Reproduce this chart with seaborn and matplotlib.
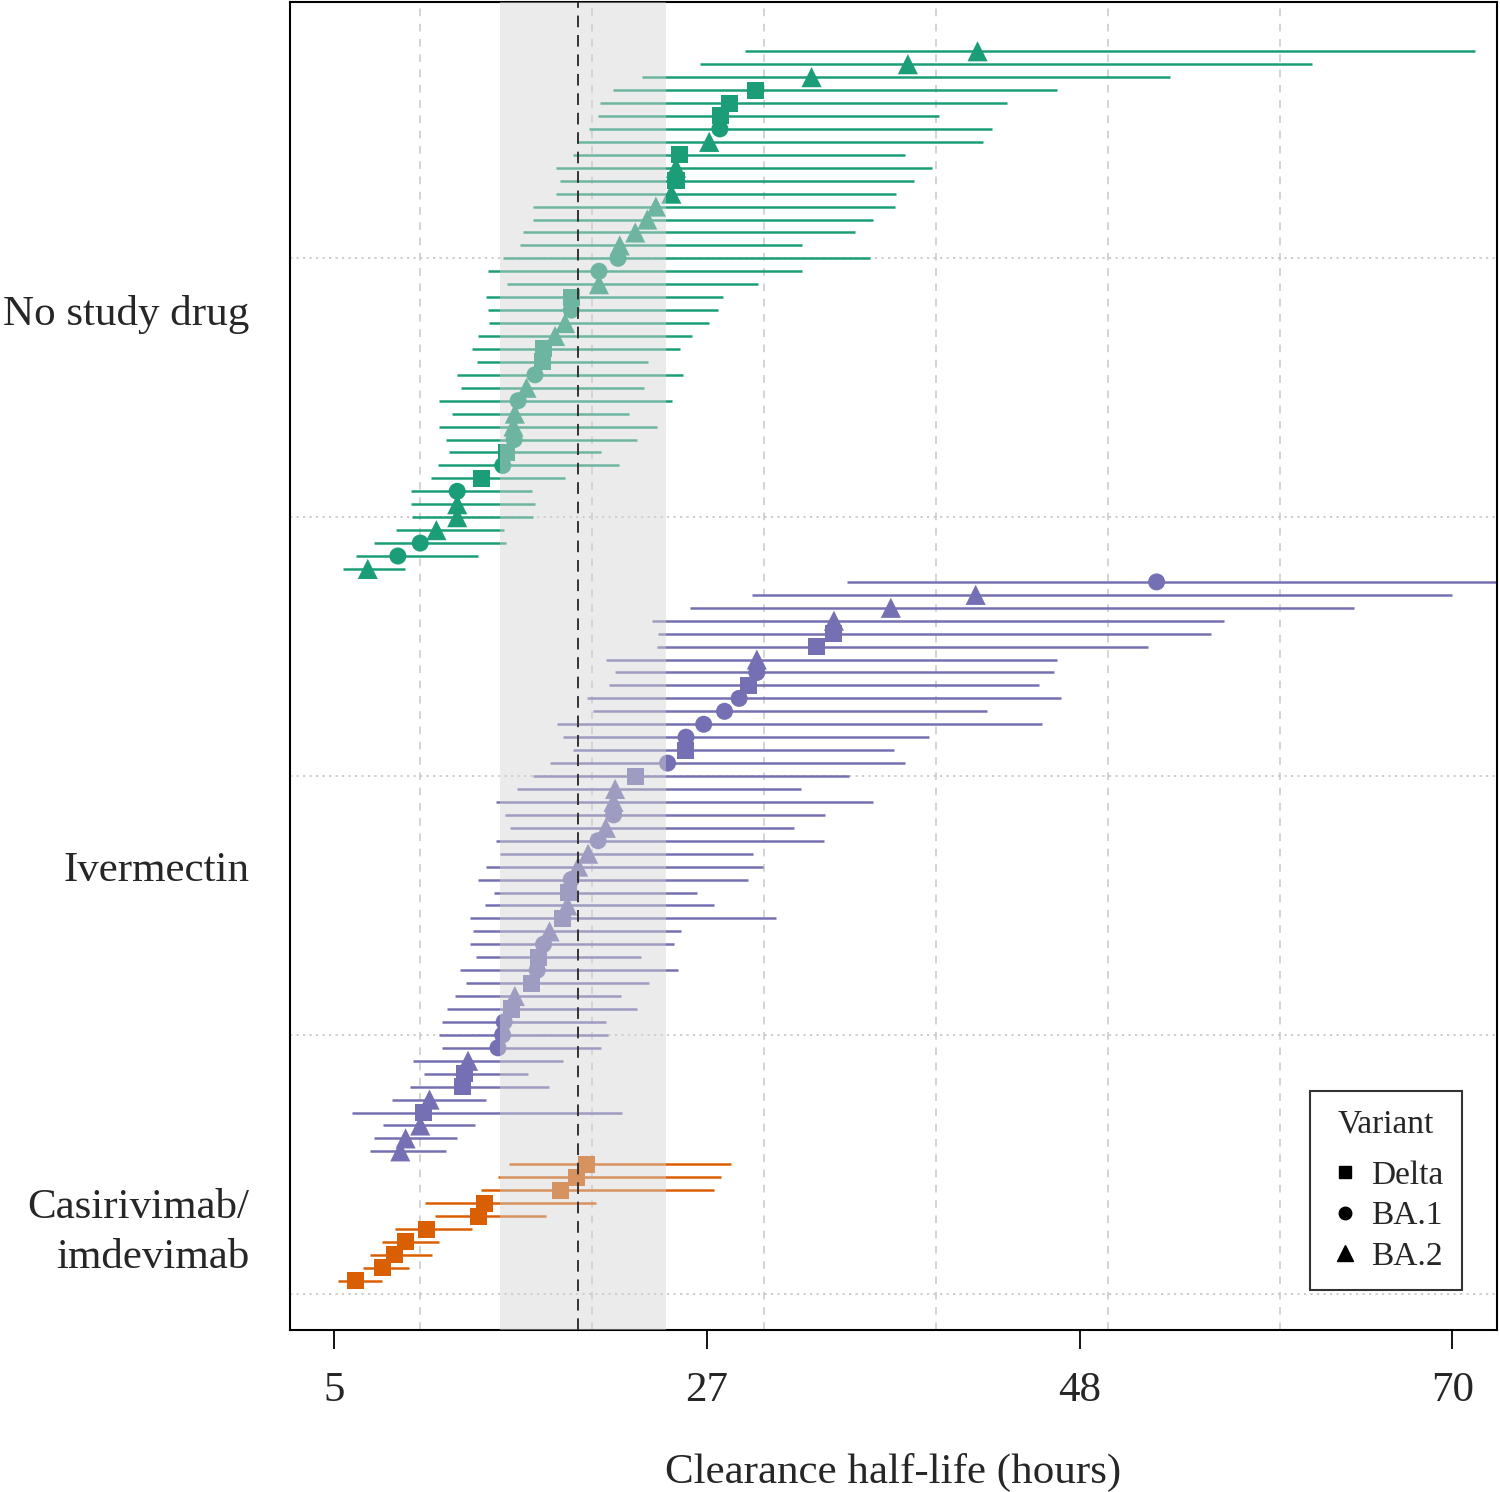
import numpy as np
import pandas as pd
import seaborn as sns
import matplotlib.pyplot as plt
from matplotlib.lines import Line2D

# values, bottom row first within each arm
casi_est = [6.24, 7.8, 8.48, 9.15, 10.36, 13.36, 13.72, 18.15, 19.09, 19.67]
casi_lo = [5.2, 6.69, 7.09, 7.76, 8.52, 10.85, 10.27, 13.54, 14.52, 15.15]
casi_hi = [7.76, 9.33, 10.67, 11.07, 13.0, 17.3, 20.21, 27.06, 27.5, 28.09]
casi_var = ["Delta"] * 10

iver_est = [8.84, 9.15, 10.0, 10.18, 10.54, 12.46, 12.55, 12.78, 14.52, 14.79,
            14.88, 15.28, 15.5, 16.45, 16.8, 16.85, 17.17, 17.52, 18.28, 18.55,
            18.64, 18.78, 19.18, 19.76, 20.34, 20.79, 21.24, 21.24, 21.33, 22.5,
            24.38, 25.4, 25.45, 26.48, 27.69, 28.54, 29.08, 29.57, 29.57, 33.06,
            34.05, 34.05, 37.36, 42.29, 52.81]
iver_lo = [7.09, 7.31, 7.85, 6.01, 8.34, 9.42, 10.22, 9.6, 11.25, 11.12,
           11.25, 11.57, 12.02, 12.64, 12.33, 13.22, 12.91, 13.09, 12.87, 13.76,
           14.3, 13.36, 13.8, 14.61, 14.39, 15.24, 14.93, 14.43, 15.6, 16.54,
           17.57, 18.87, 18.28, 17.93, 20.03, 19.67, 21.0, 21.33, 20.79, 23.75,
           23.84, 23.48, 25.67, 29.3, 34.8]
iver_hi = [11.48, 12.15, 13.18, 21.73, 13.85, 17.48, 16.27, 18.28, 20.52, 20.93,
           20.79, 22.63, 21.69, 23.3, 24.96, 22.85, 24.78, 25.14, 30.69, 27.1,
           26.08, 29.08, 29.93, 29.35, 33.47, 31.72, 33.56, 36.33, 32.12, 34.94,
           38.21, 37.54, 39.6, 46.14, 42.96, 47.26, 46.0, 46.86, 47.04, 52.3,
           55.95, 56.75, 64.27, 70.0, 75.0]
iver_var = ["BA.2", "BA.2", "BA.2", "Delta", "BA.2", "Delta", "Delta", "BA.2", "BA.1", "BA.1",
            "BA.1", "Delta", "BA.2", "Delta", "BA.1", "Delta", "BA.1", "BA.2", "Delta", "BA.2",
            "Delta", "BA.1", "BA.2", "BA.2", "BA.1", "BA.2", "BA.1", "BA.2", "BA.2", "Delta",
            "BA.1", "Delta", "BA.1", "BA.1", "BA.1", "BA.1", "Delta", "BA.1", "BA.2", "Delta",
            "Delta", "BA.2", "BA.2", "BA.2", "BA.1"]

none_est = [6.95, 8.7, 10.0, 10.94, 12.15, 12.15, 12.15, 13.54, 14.8, 15.0,
            15.46, 15.42, 15.5, 15.69, 16.18, 16.67, 17.08, 17.17, 17.84, 18.42,
            18.78, 18.78, 20.39, 20.39, 21.5, 21.6, 22.5, 23.2, 23.7, 24.6,
            24.87, 24.87, 25.05, 26.8, 27.42, 27.47, 27.96, 29.5, 32.75, 38.35,
            42.4]
none_lo = [5.52, 6.28, 7.31, 8.57, 9.55, 9.46, 9.46, 10.63, 11.03, 11.7,
           11.52, 11.07, 11.84, 11.07, 12.37, 12.15, 13.3, 13.0, 13.36, 13.99,
           13.94, 13.8, 15.06, 13.94, 14.79, 15.78, 15.96, 16.58, 16.58, 17.88,
           18.1, 17.88, 18.87, 19.09, 19.8, 20.34, 20.48, 21.2, 22.9, 26.26,
           28.9]
none_hi = [9.1, 13.36, 14.97, 14.88, 16.54, 16.67, 16.5, 18.42, 21.55, 20.52,
           22.63, 23.75, 22.14, 24.64, 23.03, 25.3, 23.26, 25.1, 25.8, 26.8,
           27.3, 27.6, 29.66, 32.17, 36.15, 32.17, 35.3, 36.33, 37.6, 37.68,
           38.7, 39.74, 38.2, 42.74, 43.27, 40.14, 44.1, 47.0, 53.57, 61.86,
           71.3]
none_var = ["BA.2", "BA.1", "BA.1", "BA.2", "BA.2", "BA.2", "BA.1", "Delta", "BA.1", "Delta",
            "BA.1", "BA.2", "BA.2", "BA.1", "BA.2", "BA.1", "Delta", "Delta", "BA.2", "BA.2",
            "BA.1", "Delta", "BA.2", "BA.1", "BA.1", "BA.2", "BA.2", "BA.2", "BA.2", "BA.2",
            "Delta", "BA.2", "Delta", "BA.2", "BA.1", "Delta", "Delta", "Delta", "BA.2", "BA.2",
            "BA.2"]

arm_names = ["Casirivimab/\nimdevimab", "Ivermectin", "No study drug"]
arm_colors = ["#D95F02", "#7570B3", "#1B9E77"]
variants = ["Delta", "BA.1", "BA.2"]
pop_median = 19.16
band_lo, band_hi = 14.63, 24.27
tick_vals = [5, 26.667, 48.333, 70]
tick_labels = ["5", "27", "48", "70"]

frames = []
for name, est, lo, hi, var in [
    (arm_names[0], casi_est, casi_lo, casi_hi, casi_var),
    (arm_names[1], iver_est, iver_lo, iver_hi, iver_var),
    (arm_names[2], none_est, none_lo, none_hi, none_var),
]:
    frames.append(pd.DataFrame({"arm": name, "est": est, "lo": lo, "hi": hi, "variant": var}))
df = pd.concat(frames, ignore_index=True)
df["row"] = np.arange(1, len(df) + 1)

sns.set_style("white")
plt.rcParams["font.family"] = ["Liberation Serif", "DejaVu Serif"]

fig = plt.figure(figsize=(15, 14.92), dpi=100)
ax = fig.add_axes([0.193, 0.1086, 0.805, 0.89])

# grid
for gx in [10, 20, 30, 40, 50, 60]:
    ax.axvline(gx, color="#C8C8C8", lw=1.1, ls=(0, (5, 5)), zorder=0)
for gy in [0, 20, 40, 60, 80]:
    ax.axhline(gy, color="#C8C8C8", lw=1.3, ls=(0, (1.2, 2.4)), zorder=0)

# intervals
pal = dict(zip(arm_names, arm_colors))
ax.hlines(df["row"], df["lo"], df["hi"], colors=[pal[a] for a in df["arm"]], lw=1.8, zorder=2)

marker_map = {"Delta": "s", "BA.1": "o", "BA.2": "^"}
size_map = {"Delta": 150, "BA.1": 150, "BA.2": 210}
for v in variants:
    sub = df[df["variant"] == v]
    sns.scatterplot(
        data=sub, x="est", y="row", hue="arm", palette=pal,
        marker=marker_map[v], s=size_map[v], linewidth=0,
        legend=False, ax=ax, zorder=3,
    )

# population range and median
ax.axvspan(band_lo, band_hi, color="#D3D3D3", alpha=0.45, lw=0, zorder=4)
ax.axvline(pop_median, color="#333333", lw=1.4, ls=(0, (6, 4)), zorder=5)

ax.set_xlim(2.4, 72.6)
ax.set_ylim(-2.8, 99.8)
ax.set_xticks(tick_vals)
ax.set_xticklabels(tick_labels)
ax.set_yticks([5.5, 33, 76])
ax.set_yticklabels(arm_names, ha="right")
for lab in ax.get_yticklabels():
    lab.set_linespacing(1.4)
ax.tick_params(axis="x", bottom=True, length=14, width=1.3, pad=16, labelsize=31, color="black")
ax.tick_params(axis="y", left=False, length=0, pad=29, labelsize=31)
ax.set_xlabel("Clearance half-life (hours)", fontsize=31, labelpad=31)
ax.set_ylabel("")
for sp in ax.spines.values():
    sp.set_color("black")
    sp.set_linewidth(1.5)

handles = [
    Line2D([], [], marker="s", color="black", ls="", markersize=9),
    Line2D([], [], marker="o", color="black", ls="", markersize=9),
    Line2D([], [], marker="^", color="black", ls="", markersize=11),
]
leg = ax.legend(handles, variants, title="Variant",
                loc="lower right", bbox_to_anchor=(0.971, 0.030),
                fontsize=24, title_fontsize=24, frameon=True, fancybox=False,
                handletextpad=0.3, handlelength=1.0, labelspacing=0.3,
                borderpad=0.55, borderaxespad=0)
leg.get_frame().set_edgecolor("black")
leg.get_frame().set_linewidth(1.5)
leg._legend_box.sep = 15

fig.savefig("out.png", dpi=100)
